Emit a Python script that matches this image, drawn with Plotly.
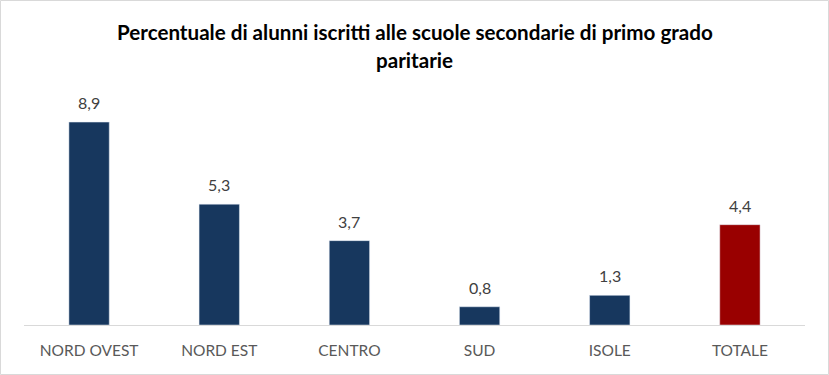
import plotly.graph_objects as go

categories = ["NORD OVEST", "NORD EST", "CENTRO", "SUD", "ISOLE", "TOTALE"]
values = [8.9, 5.3, 3.7, 0.8, 1.3, 4.4]
bar_colors = ["#17375E", "#17375E", "#17375E", "#17375E", "#17375E", "#990000"]
title_lines = ["Percentuale di alunni iscritti alle scuole secondarie di primo grado", "paritarie"]

W, H = 829, 375
L, R, T, B = 24, 24, 97, 50
pw, ph = W - L - R, H - T - B

fig = go.Figure(go.Bar(x=categories, y=values, marker_color=bar_colors, width=0.31, hoverinfo="skip"))

for c, v in zip(categories, values):
    fig.add_annotation(x=c, y=v, xref="x", yref="y", text=f"{v:.1f}".replace(".", ","),
                       showarrow=False, yanchor="bottom", yshift=8,
                       font=dict(family="Lato, Open Sans", size=16, color="#404040"))

title_font = dict(family="Lato, DejaVu Sans Condensed", size=20.6, color="#000000")
for i, line in enumerate(title_lines):
    py = 32 + 28 * i
    fig.add_annotation(x=(W / 2 - L) / pw, y=(H - B - py) / ph, xref="paper", yref="paper",
                       text=f"<b>{line}</b>", showarrow=False, xanchor="center", yanchor="middle",
                       font=title_font)

fig.add_shape(type="rect", xref="paper", yref="paper",
              x0=(0.5 - L) / pw, x1=(W - 0.5 - L) / pw,
              y0=(H - B - (H - 0.5)) / ph, y1=(H - B - 0.5) / ph,
              line=dict(color="#D9D9D9", width=1), layer="below")

fig.update_layout(
    width=W, height=H, margin=dict(l=L, r=R, t=T, b=B),
    paper_bgcolor="white", plot_bgcolor="white", showlegend=False,
    xaxis=dict(showline=True, linecolor="#D9D9D9", linewidth=1, ticks="", showgrid=False,
               ticklabelstandoff=11,
               tickfont=dict(family="Lato, Open Sans", size=15.5, color="#595959")),
    yaxis=dict(range=[0, 10], visible=False, showgrid=False, zeroline=False),
)

fig.write_html("out.html", config={"displayModeBar": False},
               post_script="document.body.style.margin='0';document.body.style.padding='0';")
